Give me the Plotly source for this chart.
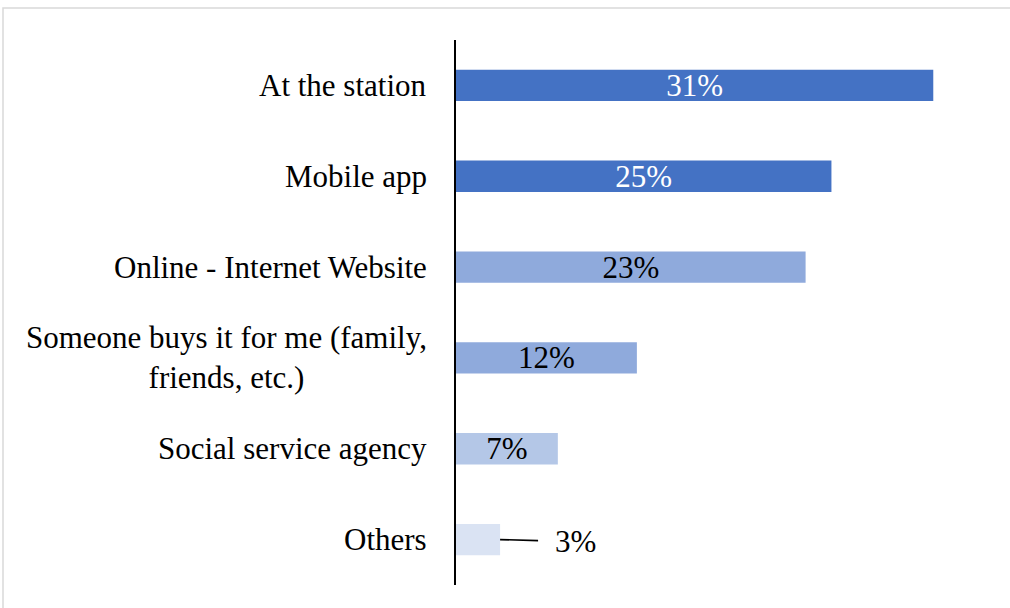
import plotly.graph_objects as go

categories = ["At the station", "Mobile app", "Online - Internet Website",
              "Someone buys it for me (family,<br>friends, etc.)",
              "Social service agency", "Others"]
values = [31.4, 24.7, 23.0, 11.9, 6.7, 2.9]
labels = ["31%", "25%", "23%", "12%", "7%", "3%"]
colors = ["#4472C4", "#4472C4", "#8FAADC", "#8FAADC", "#B4C7E7", "#DAE3F3"]
text_colors = ["white", "white", "black", "black", "black", "black"]

FONT = "Liberation Serif"
FS = 31
L, R, T, B = 456, 20, 40, 23
W, H = 1010, 608
pw, ph = W - L - R, H - T - B
px_per_unit = 15.2
xmax = pw / px_per_unit

inside_text = [lab if i < 5 else "" for i, lab in enumerate(labels)]

fig = go.Figure(go.Bar(
    x=values, y=categories, orientation="h",
    marker=dict(color=colors, line=dict(width=0)),
    text=inside_text, textposition="inside", insidetextanchor="middle",
    textfont=dict(family=FONT, size=FS, color=text_colors),
    constraintext="none",
    textangle=0, cliponaxis=False, hoverinfo="skip",
))

annotations = []
for c in categories:
    annotations.append(dict(
        x=0, xref="paper", y=c, yref="y", xanchor="right", yanchor="middle",
        xshift=-27, text=c, showarrow=False, align="center",
        font=dict(family=FONT, size=FS, color="black")))

annotations.append(dict(
    x=values[5], y=categories[5], xref="x", yref="y", text=labels[5],
    showarrow=True, arrowhead=0, arrowwidth=1.6, arrowcolor="black",
    ax=75, ay=2, startstandoff=15,
    font=dict(family=FONT, size=FS, color="black")))

fig.update_layout(
    width=W, height=H,
    margin=dict(l=L, r=R, t=T, b=B),
    paper_bgcolor="white", plot_bgcolor="white",
    showlegend=False, bargap=0.655,
    xaxis=dict(range=[0, xmax], visible=False, fixedrange=True),
    yaxis=dict(autorange="reversed", showticklabels=False, ticks="",
               showline=True, linecolor="black", linewidth=2,
               showgrid=False, zeroline=False, fixedrange=True),
    annotations=annotations,
    shapes=[dict(type="rect", xref="paper", yref="paper",
                 x0=(3 - L) / pw, x1=1.2, y0=-0.2, y1=1 + (T - 8) / ph,
                 line=dict(color="#D9D9D9", width=1.5), layer="below")],
)

fig.write_html("out.html", config={"displayModeBar": False},
               post_script="document.body.style.margin='0';")
